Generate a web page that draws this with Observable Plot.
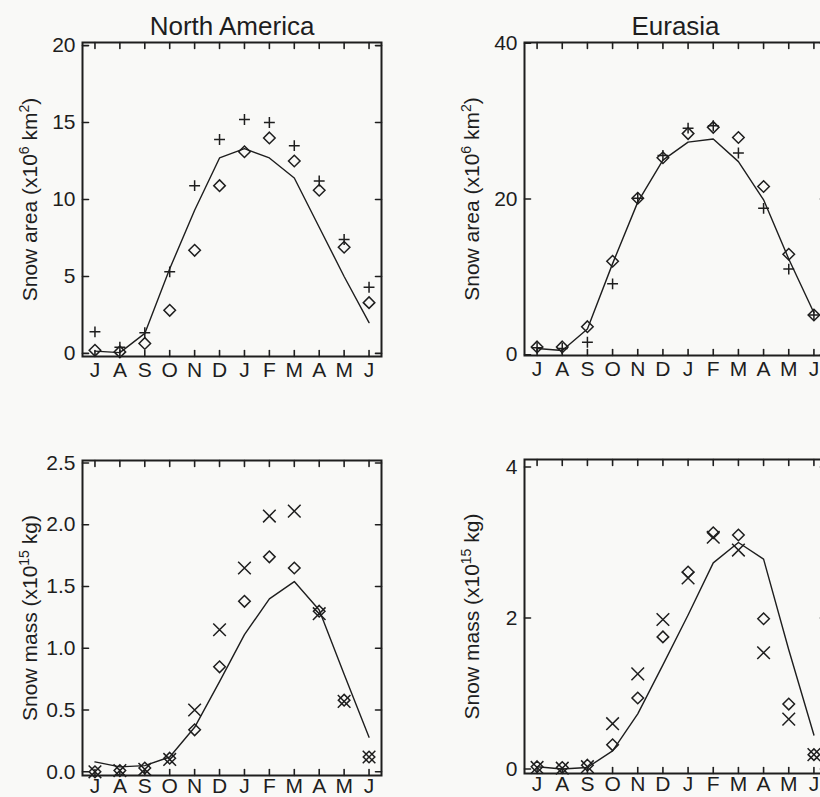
<!DOCTYPE html>
<html><head><meta charset="utf-8">
<script src="https://cdn.jsdelivr.net/npm/d3@7"></script>
<script src="https://cdn.jsdelivr.net/npm/@observablehq/plot@0.6"></script>
<style>
html,body{margin:0;padding:0;background:#f9f9f7;overflow:hidden}
#fig{position:relative;width:820px;height:797px;overflow:hidden;background:#f9f9f7}
#fig svg{position:absolute}
</style></head><body><div id="fig"></div>
<script>
// ---- data ----
const months = ["J","A","S","O","N","D","J","F","M","A","M","J"];

const naAreaLine    = [0.15, 0.05, 1.3, 5.5, 9.3, 12.7, 13.3, 12.7, 11.4, 8.2, 5.0, 2.0];
const naAreaPlus    = [1.4, 0.4, 1.35, 5.3, 10.9, 13.9, 15.2, 15.0, 13.5, 11.2, 7.4, 4.3];
const naAreaDiamond = [0.2, 0.1, 0.65, 2.8, 6.7, 10.9, 13.1, 14.0, 12.5, 10.6, 6.9, 3.3];

const euAreaLine    = [0.8, 0.55, 3.3, 11.7, 19.6, 25.0, 27.3, 27.7, 24.8, 19.9, 12.3, 5.4];
const euAreaPlus    = [0.9, 0.8, 1.6, 9.1, 20.1, 25.6, 29.1, 29.4, 25.9, 18.8, 11.0, 5.1];
const euAreaDiamond = [1.0, 1.0, 3.6, 12.0, 20.1, 25.3, 28.4, 29.2, 27.9, 21.6, 12.9, 5.1];

const naMassLine    = [0.08, 0.04, 0.05, 0.12, 0.36, 0.73, 1.11, 1.40, 1.54, 1.31, 0.79, 0.28];
const naMassTimes   = [0.0, 0.01, 0.02, 0.10, 0.50, 1.15, 1.65, 2.07, 2.11, 1.28, 0.57, 0.12];
const naMassDiamond = [0.0, 0.01, 0.03, 0.11, 0.34, 0.85, 1.38, 1.74, 1.65, 1.30, 0.58, 0.12];

const euMassLine    = [0.03, 0.0, 0.02, 0.24, 0.73, 1.38, 2.04, 2.73, 3.0, 2.78, 1.58, 0.45];
const euMassTimes   = [0.02, 0.01, 0.03, 0.60, 1.26, 1.98, 2.53, 3.07, 2.90, 1.54, 0.66, 0.19];
const euMassDiamond = [0.03, 0.02, 0.05, 0.32, 0.94, 1.75, 2.61, 3.13, 3.10, 1.99, 0.86, 0.19];

const titles = ["North America", "Eurasia"];
const areaLabelParts = [["Snow area (x10", false], ["6", true], [" km", false], ["2", true], [")", false]];
const massLabelParts = [["Snow mass (x10", false], ["15", true], [" kg)", false]];

const naAreaTicks = [0, 5, 10, 15, 20];
const euAreaTicks = [0, 20, 40];
const naMassTicks = [0, 0.5, 1.0, 1.5, 2.0, 2.5];
const euMassTicks = [0, 2, 4];

// ---- drawing ----
const ink = "#1e1e1e";
const monthIdx = d3.range(months.length);
const tickShape = {draw(ctx, l) { ctx.moveTo(0, 0); ctx.lineTo(0, -l); }};
const FONT = "'Liberation Sans', Arial, Helvetica, sans-serif";

const panels = [
  {left: 0, top: 0, w: 299, h: 314, title: titles[0], yDomain: [-0.2, 20.2], yTicks: naAreaTicks, fmt: d3.format("d"),
   line: naAreaLine, s1: naAreaPlus, sym1: "plus", r1: 3.6, s2: naAreaDiamond, label: areaLabelParts, pad: 6},
  {left: 442, top: 0, w: 302, h: 313, title: titles[1], yDomain: [-0.1, 40.1], yTicks: euAreaTicks, fmt: d3.format("d"),
   line: euAreaLine, s1: euAreaPlus, sym1: "plus", r1: 3.6, s2: euAreaDiamond, label: areaLabelParts, pad: 6},
  {left: 0, top: 418, w: 299, h: 315, title: null, yDomain: [-0.03, 2.52], yTicks: naMassTicks, fmt: d3.format(".1f"),
   line: naMassLine, s1: naMassTimes, sym1: "times", r1: 5.8, s2: naMassDiamond, label: massLabelParts, pad: 3},
  {left: 442, top: 417, w: 302, h: 314, title: null, yDomain: [-0.06, 4.1], yTicks: euMassTicks, fmt: d3.format("d"),
   line: euMassLine, s1: euMassTimes, sym1: "times", r1: 5.8, s2: euMassDiamond, label: massLabelParts, pad: 3}
];

const fig = document.getElementById("fig");
const SVGNS = "http://www.w3.org/2000/svg";

for (const p of panels) {
  const mL = 82, mT = 42, mR = 20, mB = 44;
  const marks = [
    Plot.line(monthIdx, {x: d => d, y: i => p.line[i], stroke: ink, strokeWidth: 1.4}),
    Plot.dot(monthIdx, {x: d => d, y: i => p.s2[i], symbol: "diamond2", r: 5.2, stroke: ink, strokeWidth: 1.5, fill: "none"}),
    Plot.dot(monthIdx, {x: d => d, y: i => p.s1[i], symbol: p.sym1, r: p.r1, stroke: ink, strokeWidth: 1.5, fill: "none"}),
    Plot.vector(monthIdx, {x: d => d, frameAnchor: "bottom", rotate: 0, length: 6, anchor: "start", shape: tickShape, stroke: ink, strokeWidth: 1.6}),
    Plot.vector(monthIdx, {x: d => d, frameAnchor: "top", rotate: 180, length: 6, anchor: "start", shape: tickShape, stroke: ink, strokeWidth: 1.6}),
    Plot.vector(p.yTicks, {y: d => d, frameAnchor: "left", rotate: 90, length: 6, anchor: "start", shape: tickShape, stroke: ink, strokeWidth: 1.6}),
    Plot.vector(p.yTicks, {y: d => d, frameAnchor: "right", rotate: -90, length: 6, anchor: "start", shape: tickShape, stroke: ink, strokeWidth: 1.6}),
    Plot.frame({stroke: ink, strokeWidth: 2})
  ];
  if (p.title) marks.push(Plot.text([p.title], {frameAnchor: "top", lineAnchor: "middle", dy: -16, fontSize: 26, fill: ink}));
  const chart = Plot.plot({
    width: mL + p.w + mR,
    height: mT + p.h + mB,
    marginLeft: mL, marginTop: mT, marginRight: mR, marginBottom: mB,
    style: {background: "transparent", fontFamily: FONT, fontSize: "21px", color: ink, overflow: "visible"},
    x: {domain: [-0.5, 11.5], ticks: monthIdx, tickFormat: i => months[i], tickSize: 0, tickPadding: p.pad, label: null},
    y: {domain: p.yDomain, ticks: p.yTicks, tickFormat: p.fmt, tickSize: 0, tickPadding: 7,
        label: p.label.map(d => d[0]).join(""), labelAnchor: "center", labelOffset: 60},
    marks
  });
  chart.style.left = (p.left) + "px";
  chart.style.top = (p.top) + "px";
  fig.appendChild(chart);
  // superscripts in the y-axis label
  const t = chart.querySelector('[aria-label="y-axis label"] text');
  if (t) {
    t.textContent = "";
    let up = false;
    for (const [s, sup] of p.label) {
      const ts = document.createElementNS(SVGNS, "tspan");
      ts.textContent = s;
      if (sup) { ts.setAttribute("font-size", "14px"); if (!up) { ts.setAttribute("dy", "-8"); up = true; } }
      else if (up) { ts.setAttribute("dy", "8"); up = false; }
      t.appendChild(ts);
    }
  }
}
</script></body></html>
